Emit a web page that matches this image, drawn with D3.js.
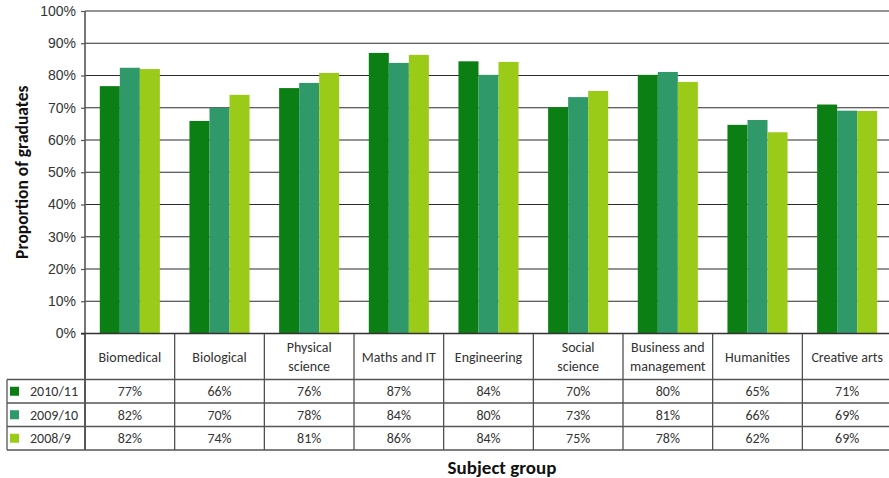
<!DOCTYPE html>
<html>
<head>
<meta charset="utf-8">
<script src="https://cdn.jsdelivr.net/npm/d3@7"></script>
<style>
  body { margin: 0; background: #fff; }
  svg { display: block; font-family: Carlito, Lato, "Open Sans", sans-serif; }
</style>
</head>
<body>
<svg width="889" height="478"></svg>
<script>
  // data
  const subjects = [["Biomedical"], ["Biological"], ["Physical", "science"], ["Maths and IT"],
    ["Engineering"], ["Social", "science"], ["Business and", "management"], ["Humanities"], ["Creative arts"]];
  const years = ["2010/11", "2009/10", "2008/9"];
  const v2010 = [76.7, 65.9, 76.1, 87.0, 84.4, 70.2, 80.2, 64.7, 71.0];
  const v2009 = [82.4, 70.0, 77.7, 83.9, 80.2, 73.3, 81.1, 66.2, 69.1];
  const v2008 = [82.0, 74.0, 80.8, 86.4, 84.2, 75.2, 78.0, 62.4, 69.0];
  const yTicks = [0, 10, 20, 30, 40, 50, 60, 70, 80, 90, 100];
  const colors = ["#0c7f14", "#30996a", "#9bcb19"];

  const series = [v2010, v2009, v2008];

  let svg = d3.select("svg");
  let plotLeft = 85, plotRight = 892, plotTop = 11, plotBottom = 333.5;
  let rowH = [334, 379.5, 403, 426.5, 450];

  let x0 = d3.scaleBand()
          .domain(d3.range(subjects.length))
          .range([plotLeft, plotRight])
          .paddingInner(0.33)
          .paddingOuter(0.165);

  let x1 = d3.scaleBand()
          .domain(d3.range(years.length))
          .range([0, x0.bandwidth()]);

  let y = d3.scaleLinear().domain([0, 100]).range([plotBottom, plotTop]);

  // gridlines
  svg.append("g").selectAll("line")
          .data(yTicks.slice(1))
          .enter().append("line")
          .attr("x1", plotLeft).attr("x2", plotRight)
          .attr("y1", d => y(d)).attr("y2", d => y(d))
          .attr("stroke", "#2b2b2b")
          .attr("stroke-width", 1.1);

  // bars
  let groups = svg.append("g").selectAll("g")
          .data(subjects)
          .enter().append("g")
          .attr("transform", (d, i) => "translate(" + x0(i) + ",0)");

  groups.selectAll("rect")
          .data((d, i) => series.map((s, k) => ({k: k, v: s[i]})))
          .enter().append("rect")
          .attr("x", d => x1(d.k))
          .attr("width", x1.bandwidth())
          .attr("y", d => y(d.v))
          .attr("height", d => plotBottom - y(d.v))
          .attr("fill", d => colors[d.k]);

  // y axis
  let yAxis = d3.axisLeft(y)
          .tickValues(yTicks)
          .tickSize(4)
          .tickPadding(5)
          .tickFormat(d => d + "%");

  let ya = svg.append("g")
          .attr("transform", "translate(" + plotLeft + ",0)")
          .call(yAxis);
  ya.select(".domain").remove();
  ya.selectAll(".tick line").attr("stroke", "#555").attr("stroke-width", 1.2);
  ya.selectAll("text").attr("font-size", 14).attr("fill", "#333").attr("font-family", "inherit");

  svg.append("line")
          .attr("x1", plotLeft).attr("x2", plotLeft)
          .attr("y1", plotTop).attr("y2", rowH[4])
          .attr("stroke", "#555").attr("stroke-width", 1.6);

  svg.append("line")
          .attr("x1", plotLeft - 4).attr("x2", plotRight)
          .attr("y1", plotBottom).attr("y2", plotBottom)
          .attr("stroke", "#333").attr("stroke-width", 1.4);

  // data table
  let table = svg.append("g");
  let colEdges = d3.range(subjects.length + 1).map(i => plotLeft + i * x0.step());

  colEdges.forEach(function (cx) {
    table.append("line")
            .attr("x1", cx).attr("x2", cx)
            .attr("y1", plotBottom).attr("y2", rowH[4])
            .attr("stroke", "#444").attr("stroke-width", 1.2);
  });
  rowH.slice(1).forEach(function (ry) {
    table.append("line")
            .attr("x1", 7).attr("x2", plotRight)
            .attr("y1", ry).attr("y2", ry)
            .attr("stroke", "#555").attr("stroke-width", 1.3);
  });
  table.append("line")
          .attr("x1", 7).attr("x2", 7)
          .attr("y1", rowH[1]).attr("y2", rowH[4])
          .attr("stroke", "#555").attr("stroke-width", 1.3);

  // header labels
  subjects.forEach(function (lines, i) {
    let cx = x0(i) + x0.bandwidth() / 2;
    let cy = (rowH[0] + rowH[1]) / 2;
    let t = table.append("text")
            .attr("x", cx)
            .attr("text-anchor", "middle")
            .attr("font-size", 14)
            .attr("fill", "#333");
    lines.forEach(function (ln, j) {
      t.append("tspan")
              .attr("x", cx)
              .attr("y", cy + (j - (lines.length - 1) / 2) * 19)
              .attr("dy", "0.35em")
              .text(ln);
    });
  });

  // value rows
  series.forEach(function (s, k) {
    let cy = (rowH[k + 1] + rowH[k + 2]) / 2;
    table.append("rect")
            .attr("x", 10).attr("y", cy - 4.5)
            .attr("width", 9).attr("height", 9)
            .attr("fill", colors[k]);
    table.append("text")
            .attr("x", 30).attr("y", cy).attr("dy", "0.35em")
            .attr("font-size", 14).attr("fill", "#333")
            .text(years[k]);
    s.forEach(function (v, i) {
      table.append("text")
              .attr("x", x0(i) + x0.bandwidth() / 2)
              .attr("y", cy).attr("dy", "0.35em")
              .attr("text-anchor", "middle")
              .attr("font-size", 14).attr("fill", "#333")
              .text(Math.round(v) + "%");
    });
  });

  // axis titles
  svg.append("text")
          .attr("transform", "translate(22," + ((plotTop + plotBottom) / 2) + ") rotate(-90)")
          .attr("text-anchor", "middle")
          .attr("dy", "0.35em")
          .attr("font-size", 17.5).attr("font-weight", "bold").attr("fill", "#111")
          .text("Proportion of graduates");

  svg.append("text")
          .attr("x", 502).attr("y", 467).attr("dy", "0.35em")
          .attr("text-anchor", "middle")
          .attr("font-size", 19).attr("font-weight", "bold").attr("fill", "#111")
          .text("Subject group");
</script>
</body>
</html>
